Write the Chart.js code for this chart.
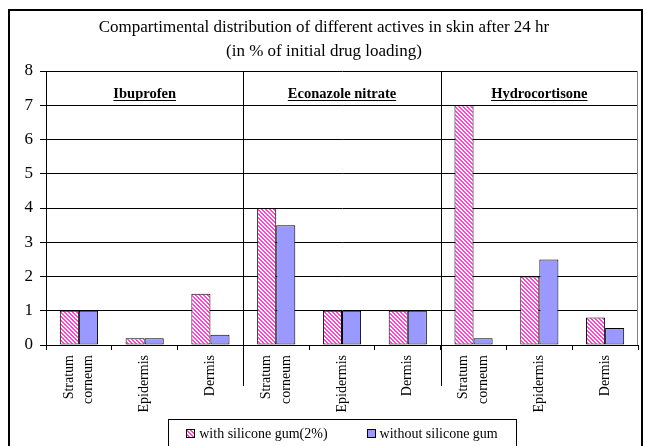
<!DOCTYPE html>
<html>
<head>
<meta charset="utf-8">
<script src="https://cdn.jsdelivr.net/npm/chart.js@4/dist/chart.umd.min.js"></script>
<style>
  html, body { margin: 0; padding: 0; background: #fff; }
  canvas { display: block; }
</style>
</head>
<body>
<canvas id="c" width="646" height="446"></canvas>
<script>
// Skin compartments, repeated for each active
const tickLabels = [
  ['Stratum', 'corneum'], 'Epidermis', 'Dermis',
  ['Stratum', 'corneum'], 'Epidermis', 'Dermis',
  ['Stratum', 'corneum'], 'Epidermis', 'Dermis'
];
const groupNames = ['Ibuprofen', 'Econazole nitrate', 'Hydrocortisone'];
const seriesNames = ['with silicone gum(2%)', 'without silicone gum'];
// % of initial drug loading
const withGum    = [1.0, 0.2, 1.5, 4.0, 1.0, 1.0, 7.0, 2.0, 0.8];
const withoutGum = [1.0, 0.2, 0.3, 3.5, 1.0, 1.0, 0.2, 2.5, 0.5];
const yMin = 0, yMax = 8, yStep = 1;
const titleLines = [
  'Compartimental distribution of different actives in skin after 24 hr',
  '(in % of initial drug loading)'
];

const SERIF = "'Liberation Serif', 'Times New Roman', serif";

// diagonal pink hatch
function makeHatch() {
  const c = document.createElement('canvas');
  c.width = 4; c.height = 4;
  const g = c.getContext('2d');
  g.fillStyle = '#ffffff';
  g.fillRect(0, 0, 4, 4);
  g.fillStyle = '#ff44d0';
  for (let y = 0; y < 4; y++) {
    for (let x = 0; x < 4; x++) {
      const d = ((x - y) % 4 + 4) % 4;
      if (d === 0 || d === 1) g.fillRect(x, y, 1, 1);
    }
  }
  return g.createPattern(c, 'repeat');
}
const ctx0 = document.getElementById('c').getContext('2d');
const hatch = makeHatch();
const blueFill = '#9999ff';

// rotated category labels, multi-line ones centred on their tick
const categoryLabels = {
  id: 'categoryLabels',
  afterDraw(chart) {
    const { ctx, chartArea: a, scales: { x } } = chart;
    const lh = 19.6;
    ctx.save();
    ctx.font = "14px " + SERIF;
    ctx.fillStyle = '#000';
    ctx.textAlign = 'right';
    ctx.textBaseline = 'middle';
    tickLabels.forEach((lab, i) => {
      const lines = Array.isArray(lab) ? lab : [lab];
      const px = x.getPixelForValue(i);
      ctx.save();
      ctx.translate(px, a.bottom + 10);
      ctx.rotate(-Math.PI / 2);
      lines.forEach((t, j) => {
        ctx.fillText(t, 0, (j - (lines.length - 1) / 2) * lh);
      });
      ctx.restore();
    });
    ctx.restore();
  }
};

// group separators, group names, plot frame, legend and outer border
const decorations = {
  id: 'decorations',
  afterDraw(chart) {
    const { ctx, chartArea: a, scales: { x } } = chart;
    ctx.save();
    // plot right edge
    ctx.strokeStyle = '#808080';
    ctx.lineWidth = 1;
    ctx.beginPath();
    ctx.moveTo(Math.round(a.right) - 0.5, a.top);
    ctx.lineTo(Math.round(a.right) - 0.5, a.bottom);
    ctx.stroke();

    // separators between actives, extending into the label band
    ctx.strokeStyle = '#000';
    const per = tickLabels.length / groupNames.length;
    for (let g = 1; g < groupNames.length; g++) {
      const i = g * per;
      const px = Math.round((x.getPixelForValue(i - 1) + x.getPixelForValue(i)) / 2) + 0.5;
      ctx.beginPath();
      ctx.moveTo(px, a.top);
      ctx.lineTo(px, a.bottom + 41);
      ctx.stroke();
    }

    // active names, bold and underlined
    ctx.font = "bold 14.5px " + SERIF;
    ctx.fillStyle = '#000';
    ctx.textAlign = 'center';
    ctx.textBaseline = 'alphabetic';
    for (let g = 0; g < groupNames.length; g++) {
      const i0 = g * per, i1 = i0 + per - 1;
      const left = (g === 0) ? a.left : (x.getPixelForValue(i0 - 1) + x.getPixelForValue(i0)) / 2;
      const right = (g === groupNames.length - 1) ? a.right : (x.getPixelForValue(i1) + x.getPixelForValue(i1 + 1)) / 2;
      const cx = (left + right) / 2;
      const ty = a.top + 27;
      ctx.fillText(groupNames[g], cx, ty);
      const w = ctx.measureText(groupNames[g]).width;
      ctx.beginPath();
      ctx.moveTo(cx - w / 2, ty + 2.5);
      ctx.lineTo(cx + w / 2, ty + 2.5);
      ctx.stroke();
    }

    // legend
    ctx.font = "14px " + SERIF;
    const sq = 9, gapText = 4, gapItems = 39;
    const fills = [hatch, blueFill];
    const widths = seriesNames.map(s => ctx.measureText(s).width);
    const itemsW = widths.reduce((s, w) => s + sq + gapText + w, 0) + gapItems;
    const boxW = itemsW + 36;
    const cxL = (a.left + a.right) / 2;
    const boxL = Math.round(cxL - boxW / 2) + 0.5;
    const boxT = 419.5;
    ctx.strokeStyle = '#000';
    ctx.lineWidth = 1;
    ctx.strokeRect(boxL, boxT, Math.round(boxW), 40);
    let lx = cxL - itemsW / 2;
    const ly = 433;
    ctx.textAlign = 'left';
    ctx.textBaseline = 'middle';
    for (let k = 0; k < seriesNames.length; k++) {
      const sx = Math.round(lx), sy = Math.round(ly - sq / 2);
      ctx.fillStyle = fills[k];
      ctx.fillRect(sx, sy, sq, sq);
      ctx.strokeStyle = '#000';
      ctx.strokeRect(sx + 0.5, sy + 0.5, sq - 1, sq - 1);
      ctx.fillStyle = '#000';
      ctx.fillText(seriesNames[k], lx + sq + gapText, ly + 1);
      lx += sq + gapText + widths[k] + gapItems;
    }

    // outer border
    ctx.lineWidth = 2;
    ctx.strokeStyle = '#000';
    ctx.strokeRect(9, 10, 633, 460);
    ctx.restore();
  }
};

new Chart(ctx0, {
  type: 'bar',
  data: {
    labels: tickLabels,
    datasets: [
      {
        label: seriesNames[0],
        data: withGum,
        backgroundColor: hatch,
        borderColor: '#000',
        borderWidth: 1,
        borderSkipped: false
      },
      {
        label: seriesNames[1],
        data: withoutGum,
        backgroundColor: blueFill,
        borderColor: '#000',
        borderWidth: 1,
        borderSkipped: false
      }
    ]
  },
  options: {
    responsive: false,
    animation: false,
    devicePixelRatio: 1,
    categoryPercentage: 0.58,
    barPercentage: 1.0,
    layout: { padding: { left: 10, right: 8, top: 10, bottom: 0 } },
    plugins: {
      legend: { display: false },
      tooltip: { enabled: false },
      title: {
        display: true,
        text: titleLines,
        color: '#000',
        font: { family: SERIF, size: 17, weight: 'normal', lineHeight: 24 / 17 },
        padding: { top: 6, bottom: 7 }
      }
    },
    scales: {
      x: {
        afterFit(scale) { scale.height = 101; },
        grid: {
          drawOnChartArea: false,
          drawTicks: true,
          tickLength: 5,
          tickColor: '#000',
          color: '#000'
        },
        border: { color: '#000', width: 1 },
        ticks: { display: false, autoSkip: false }
      },
      y: {
        min: yMin,
        max: yMax,
        afterFit(scale) { scale.width = 36; },
        grid: {
          color: '#000',
          tickColor: '#000',
          tickLength: 6,
          drawTicks: true
        },
        border: { color: '#000', width: 1 },
        ticks: {
          stepSize: yStep,
          padding: 7,
          color: '#000',
          font: { family: SERIF, size: 17 }
        }
      }
    }
  },
  plugins: [categoryLabels, decorations]
});
</script>
</body>
</html>
